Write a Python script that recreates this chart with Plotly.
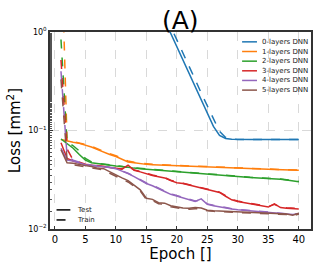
import plotly.graph_objects as go

epochs = list(range(1, 41))

test_0 = [60, 48, 40, 33, 27, 22, 18, 14.5, 11.8, 9.5, 7.7, 6.2, 5.0, 4.0, 3.2, 2.5, 1.8, 1.32,
          0.97, 0.70, 0.52, 0.385, 0.28, 0.205, 0.15, 0.11, 0.089, 0.083, 0.0815, 0.081,
          0.081, 0.081, 0.081, 0.081, 0.081, 0.081, 0.081, 0.081, 0.081, 0.081]
train_0 = [70, 56, 46, 38, 31, 25, 20.5, 16.5, 13.5, 11, 8.8, 7.1, 5.7, 4.6, 3.7, 2.9, 2.1, 1.55,
           1.15, 0.83, 0.61, 0.45, 0.33, 0.24, 0.177, 0.13, 0.098, 0.085, 0.082, 0.081,
           0.081, 0.081, 0.081, 0.081, 0.081, 0.081, 0.081, 0.081, 0.081, 0.081]

test_1 = [0.081, 0.078, 0.076, 0.074, 0.071, 0.068, 0.064, 0.060, 0.057, 0.0545,
          0.051, 0.048, 0.047, 0.046, 0.0453, 0.045, 0.0447, 0.0444, 0.0441, 0.044,
          0.0436, 0.0433, 0.043, 0.0427, 0.0424, 0.0422, 0.042, 0.0418, 0.0416, 0.0414,
          0.0412, 0.041, 0.0408, 0.0406, 0.0404, 0.0402, 0.040, 0.0398, 0.0396, 0.0394]
train_1 = [10.0, 0.079, 0.077, 0.075, 0.072, 0.069, 0.065, 0.061, 0.058, 0.0555,
           0.052, 0.049, 0.0475, 0.0465, 0.0457, 0.0453, 0.045, 0.0447, 0.0444, 0.0442,
           0.0438, 0.0435, 0.0432, 0.0429, 0.0426, 0.0424, 0.0422, 0.042, 0.0418, 0.0416,
           0.0414, 0.0412, 0.041, 0.0408, 0.0406, 0.0404, 0.0402, 0.04, 0.0398, 0.0396]

test_2 = [0.082, 0.074, 0.066, 0.057, 0.050, 0.047, 0.046, 0.045, 0.044, 0.0435,
          0.043, 0.042, 0.0415, 0.041, 0.0405, 0.040, 0.0395, 0.039, 0.0385, 0.038,
          0.0377, 0.0372, 0.0368, 0.0364, 0.036, 0.0356, 0.0352, 0.0348, 0.0344, 0.034,
          0.0337, 0.0334, 0.0332, 0.033, 0.0328, 0.0325, 0.032, 0.0315, 0.031, 0.0302]
train_2 = [0.84, 0.076, 0.070, 0.062, 0.052, 0.048, 0.0465, 0.0455, 0.0445, 0.044,
           0.0433, 0.0423, 0.0417, 0.0412, 0.0407, 0.0402, 0.0397, 0.0392, 0.0387, 0.0382,
           0.0378, 0.0374, 0.037, 0.0366, 0.0362, 0.0358, 0.0354, 0.035, 0.0346, 0.0342,
           0.0338, 0.0335, 0.0333, 0.0331, 0.0329, 0.0326, 0.0321, 0.0316, 0.0311, 0.0304]

test_3 = [0.075, 0.052, 0.049, 0.047, 0.045, 0.0445, 0.044, 0.043, 0.042, 0.041,
          0.0405, 0.0445, 0.0395, 0.038, 0.0362, 0.035, 0.034, 0.033, 0.031, 0.0295,
          0.029, 0.028, 0.027, 0.026, 0.025, 0.0245, 0.0235, 0.0215, 0.0198, 0.019,
          0.0185, 0.018, 0.0176, 0.017, 0.0167, 0.018, 0.0165, 0.0162, 0.016, 0.016]
train_3 = [0.52, 0.065, 0.050, 0.0475, 0.0455, 0.0448, 0.0442, 0.0433, 0.0423, 0.0413,
           0.0408, 0.0435, 0.0398, 0.0383, 0.0365, 0.0353, 0.0343, 0.0333, 0.0313, 0.0298,
           0.0292, 0.0282, 0.0272, 0.0262, 0.0252, 0.0247, 0.0237, 0.0218, 0.02, 0.0192,
           0.0187, 0.0182, 0.0178, 0.0172, 0.0169, 0.0178, 0.0167, 0.0164, 0.0162, 0.0162]

test_4 = [0.066, 0.050, 0.049, 0.047, 0.045, 0.044, 0.0435, 0.043, 0.042, 0.041,
          0.039, 0.0365, 0.034, 0.0315, 0.029, 0.0275, 0.0255, 0.024, 0.0225, 0.0215,
          0.0205, 0.0197, 0.019, 0.0202, 0.0178, 0.0172, 0.0167, 0.0163, 0.016, 0.0157,
          0.0155, 0.0152, 0.015, 0.0148, 0.0146, 0.0144, 0.0142, 0.0141, 0.014, 0.0142]
train_4 = [0.40, 0.055, 0.050, 0.0475, 0.0455, 0.0445, 0.044, 0.0433, 0.0423, 0.0412,
           0.0392, 0.0368, 0.0343, 0.0318, 0.0293, 0.0278, 0.0258, 0.0243, 0.0228, 0.0218,
           0.0208, 0.02, 0.0192, 0.0198, 0.018, 0.0174, 0.0169, 0.0165, 0.0161, 0.0158,
           0.0156, 0.0153, 0.0151, 0.0149, 0.0147, 0.0145, 0.0143, 0.0141, 0.0141, 0.0143]

test_5 = [0.064, 0.047, 0.0465, 0.045, 0.044, 0.043, 0.0415, 0.041, 0.038, 0.0355,
          0.033, 0.031, 0.028, 0.025, 0.0205, 0.020, 0.0185, 0.0183, 0.0172, 0.0167,
          0.0163, 0.0162, 0.0165, 0.0163, 0.0155, 0.0153, 0.0152, 0.0151, 0.015, 0.0149,
          0.0148, 0.0148, 0.0147, 0.0146, 0.0145, 0.0144, 0.0143, 0.0142, 0.0138, 0.0145]
train_5 = [0.33, 0.050, 0.045, 0.0438, 0.0428, 0.0418, 0.0403, 0.0398, 0.0368, 0.0343,
           0.032, 0.030, 0.0272, 0.0243, 0.0199, 0.0195, 0.018, 0.0178, 0.0168, 0.0163,
           0.016, 0.0159, 0.0161, 0.016, 0.0153, 0.0151, 0.015, 0.0149, 0.0148, 0.0147,
           0.0146, 0.0146, 0.0145, 0.0144, 0.0143, 0.0142, 0.0141, 0.014, 0.0136, 0.0142]

labels = ["0-layers DNN", "1-layers DNN", "2-layers DNN",
          "3-layers DNN", "4-layers DNN", "5-layers DNN"]
colors = ["#1f77b4", "#ff7f0e", "#2ca02c", "#d62728", "#9467bd", "#8c564b"]
tests = [test_0, test_1, test_2, test_3, test_4, test_5]
trains = [train_0, train_1, train_2, train_3, train_4, train_5]
style_labels = ["Test", "Train"]
style_dashes = ["solid", "dash"]

fig = go.Figure()
for lab, col, te, tr in zip(labels, colors, tests, trains):
    fig.add_trace(go.Scatter(x=epochs, y=te, mode="lines", name=lab + " (Test)",
                             showlegend=False, line=dict(color=col, width=1.5)))
    fig.add_trace(go.Scatter(x=epochs, y=tr, mode="lines", name=lab + " (Train)",
                             showlegend=False, line=dict(color=col, width=1.5, dash="dash")))

font = "DejaVu Sans"
shapes = []
annotations = []
# colour legend (upper right, inside the axes)
row_top, row_step = 0.95, 0.049
for i, (lab, col) in enumerate(zip(labels, colors)):
    yy = row_top - i * row_step
    shapes.append(dict(type="line", xref="paper", yref="paper", x0=0.736, x1=0.793,
                       y0=yy, y1=yy, line=dict(color=col, width=1.5)))
    annotations.append(dict(text=lab, xref="paper", yref="paper", x=0.805, y=yy,
                            xanchor="left", yanchor="middle", showarrow=False,
                            font=dict(size=7, family=font, color="#222")))
# line-style legend (lower left)
for i, (lab, dsh) in enumerate(zip(style_labels, style_dashes)):
    yy = 0.097 - i * 0.051
    shapes.append(dict(type="line", xref="paper", yref="paper", x0=0.025, x1=0.078,
                       y0=yy, y1=yy, line=dict(color="black", width=1.5, dash=dsh)))
    annotations.append(dict(text=lab, xref="paper", yref="paper", x=0.095, y=yy,
                            xanchor="left", yanchor="middle", showarrow=False,
                            font=dict(size=7, family=font, color="#222")))

fig.update_layout(
    width=319, height=266,
    margin=dict(l=50, r=8, t=32, b=37, autoexpand=False),
    paper_bgcolor="white", plot_bgcolor="white",
    font=dict(family=font, color="black", size=9),
    title=dict(text="(A)", x=0.565, xanchor="center", xref="container",
               yref="container", y=0.925, yanchor="middle",
               font=dict(size=25, family=font)),
    showlegend=False,
    shapes=shapes,
    annotations=annotations,
    xaxis=dict(range=[-0.8, 42], tickvals=[0, 5, 10, 15, 20, 25, 30, 35, 40],
               ticks="inside", ticklen=3, tickcolor="#333", automargin=False,
               showline=True, linecolor="#333", linewidth=1.5, mirror=True,
               showgrid=True, gridcolor="#d9d9d9", griddash="dash", gridwidth=1,
               zeroline=False, tickfont=dict(size=10),
               title=dict(text="Epoch []", font=dict(size=15), standoff=2)),
    yaxis=dict(type="log", range=[-2, 0], tickvals=[0.01, 0.1, 1],
               ticktext=["10<sup>−2</sup>", "10<sup>−1</sup>", "10<sup>0</sup>"],
               ticks="inside", ticklen=3, tickcolor="#333", automargin=False,
               minor=dict(ticks="inside", ticklen=2, tickcolor="#555", showgrid=False),
               showline=True, linecolor="#333", linewidth=1.5, mirror=True,
               showgrid=True, gridcolor="#d9d9d9", griddash="dash", gridwidth=1,
               zeroline=False, tickfont=dict(size=8),
               title=dict(text="Loss [mm<sup>2</sup>]", font=dict(size=15), standoff=4)),
)

fig.write_html("out.html", config={"displayModeBar": False},
               post_script="document.body.style.margin='0';")
